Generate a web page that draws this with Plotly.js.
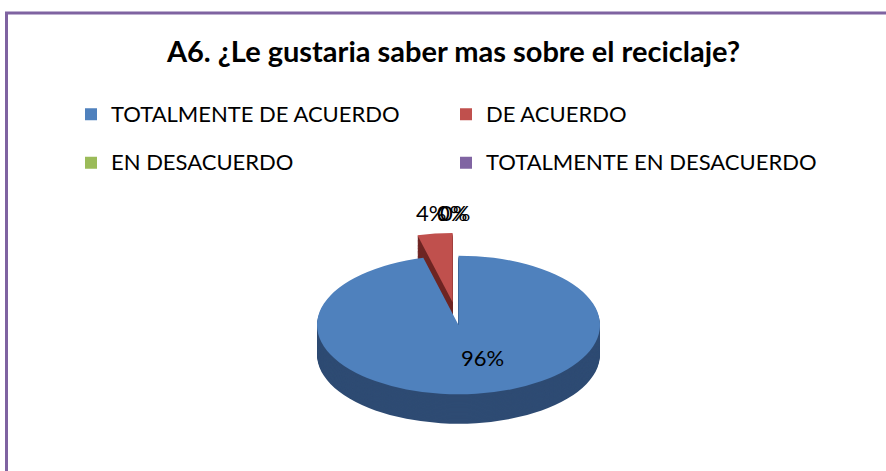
<!DOCTYPE html>
<html><head><meta charset="utf-8">
<script src="https://cdn.plot.ly/plotly-3.0.1.min.js"></script>
<style>html,body{margin:0;padding:0;background:#fff}#chart{width:886px;height:471px}</style>
</head><body><div id="chart"></div>
<script>
// ---- data ----
const categories = ["TOTALMENTE DE ACUERDO", "DE ACUERDO", "EN DESACUERDO", "TOTALMENTE EN DESACUERDO"];
const values = [96, 4, 0, 0];
const pulls = [0, 0.33, 0, 0];
const topColors = ["#4F81BD", "#C0504D", "#9BBB59", "#8064A2"];
const sideColors = ["#2E4B73", "#6E2523", "#5E7535", "#4D3C63"];
const titleText = "A6. ¿Le gustaria saber mas sobre el reciclaje?";

// ---- geometry (pseudo-3D: stacked pies, squashed vertically) ----
const W = 886, H = 471;
const FACE_CY = 325;     // final y of top-face centre
const SQUASH = 0.49;     // vertical squash ratio
const Y0 = 200;          // unsquashed centre (px from top)
const BOX = 380;         // domain box height (px)
const CX = 458.5, HALFW = 188.2;
const DEPTH = 60;        // unsquashed depth in px
const LAYERS = 24;
const xDom = [(CX - HALFW) / W, (CX + HALFW) / W];
function yDom(d) { return [1 - (Y0 + d + BOX / 2) / H, 1 - (Y0 + d - BOX / 2) / H]; }

const traces = [];
for (let i = LAYERS; i >= 1; i--) {
  const d = DEPTH * i / LAYERS;
  traces.push({
    type: 'pie', labels: categories, values: values, pull: pulls,
    sort: true, direction: 'clockwise', rotation: 0,
    marker: {colors: sideColors, line: {width: 0}},
    textinfo: 'none', hoverinfo: 'skip', showlegend: false,
    domain: {x: xDom, y: yDom(d)}
  });
}
const legendLabels = categories.map(c => '<span style="font-size:22px;baseline-shift:5.8px">' + c + '</span>');
traces.push({
  type: 'pie', labels: legendLabels, values: values, pull: pulls,
  sort: true, direction: 'clockwise', rotation: 0,
  marker: {colors: topColors, line: {width: 0}},
  textinfo: 'none', hoverinfo: 'skip', showlegend: true,
  domain: {x: xDom, y: yDom(0)}
});

const total = values.reduce((a, b) => a + b, 0);
const pct = values.map(v => Math.round(100 * v / total) + '%');
const labelPos = [[482, 357], [431, 212], [452, 212], [455, 212]];
const annotations = pct.map((t, i) => ({
  text: t, xref: 'paper', yref: 'paper', x: labelPos[i][0] / W, y: 1 - labelPos[i][1] / H,
  xanchor: 'center', yanchor: 'middle', showarrow: false,
  font: {family: 'Lato, sans-serif', size: 22, color: '#000'}
}));

const layout = {
  width: W, height: H,
  margin: {l: 0, r: 0, t: 0, b: 0},
  paper_bgcolor: '#fff',
  title: {text: titleText, x: 453.5 / W, xanchor: 'center', y: 1 - 52 / H, yanchor: 'middle', yref: 'container',
    font: {family: 'Lato, sans-serif', size: 29, color: '#000', weight: 'bold'}},
  showlegend: true,
  legend: {orientation: 'h', x: 71 / W, xanchor: 'left', y: 1 - 85 / H, yanchor: 'top',
    entrywidth: 330, entrywidthmode: 'pixels', bgcolor: 'rgba(0,0,0,0)',
    font: {family: 'Lato, sans-serif', size: 35, color: '#000'}, traceorder: 'normal'},
  shapes: [{type: 'rect', xref: 'paper', yref: 'paper', x0: 6.5 / W, x1: 1.2, y0: -0.3, y1: 1 - 13 / H,
    line: {color: '#7F63A1', width: 3}, fillcolor: 'rgba(0,0,0,0)', layer: 'above'}],
  annotations: annotations
};

const gd = document.getElementById('chart');
function squash() {
  const pl = gd.querySelector('.pielayer');
  if (pl) pl.setAttribute('transform', 'translate(0,' + FACE_CY + ') scale(1,' + SQUASH + ') translate(0,' + (-Y0) + ')');
}
Plotly.newPlot(gd, traces, layout, {displayModeBar: false, staticPlot: true}).then(() => {
  squash();
  gd.on('plotly_afterplot', squash);
});
</script></body></html>
